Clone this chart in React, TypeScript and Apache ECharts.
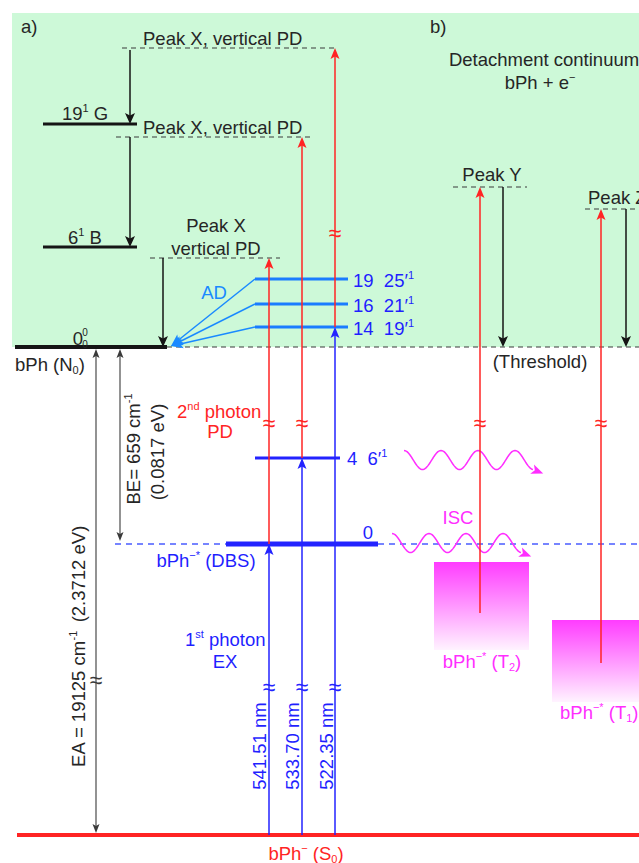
import React, { useEffect, useRef } from "react";
import * as echarts from "echarts";

const FONT = '"Liberation Sans", Arial, Helvetica, sans-serif';
const FS = 18.5;

// ---- diagram data (x in diagram columns, y in diagram energy units, top = 0) ----
// Detachment-continuum panel [x1, y1, x2, y2]
const continuumPanel = [[12, 13, 639, 347]];

// Solid energy levels [x1, x2, y]
const neutralLevels = [[43, 137, 124], [43, 137, 247]]; // 19^1 G, 6^1 B
const neutralGround = [[15, 167, 347]]; // bPh (N0)
const adLevels = [[255, 348, 279], [255, 348, 304], [255, 348, 327]]; // 19 25'1, 16 21'1, 14 19'1
const dbsVibLevels = [[255, 340, 458]]; // 4 6'1
const dbsLevel = [[226, 378, 544]]; // 0
const anionGround = [[17, 639, 835]]; // bPh- (S0)

// Dashed levels [x1, x2, y]
const blackDashed = [[122, 338, 48], [116, 310, 137], [150, 280, 258], [167, 639, 347], [453, 527, 187], [585, 639, 209]];
const blueDashed = [[115, 226, 544], [378, 639, 544]];

// Vertical arrows [x, yFrom, yTo]
const redArrows = [[269, 544, 258], [302, 458, 137], [335, 327, 48], [480, 613, 187], [601, 663, 209]];
const blueArrows = [[269, 835, 544], [302, 835, 458], [335, 835, 327]];
const blackArrows = [[130, 50, 124], [130, 137, 247], [163, 258, 347], [503, 187, 347], [626, 209, 347]];
const gaugeArrows = [[96, 349, 833], [120, 349, 541]]; // EA, BE (double headed)
// Autodetachment arrows [x1, y1, x2, y2]
const adArrows = [[255, 279, 171, 346], [255, 304, 171, 346], [255, 327, 171, 346]];

// Axis-break marks [x, y]
const redBreaks = [[269, 423], [302, 423], [335, 233], [480, 423], [601, 423]];
const blueBreaks = [[269, 687], [302, 687], [335, 687]];
const grayBreaks = [[96, 680]];

// Wavy (ISC) arrows [xStart, xEnd, yCentre]
const wavyArrows = [[404, 533, 460], [392, 521, 543]];
// Triplet bands [x1, y1, x2, y2]
const tripletBands = [[434, 562, 529, 650], [552, 620, 639, 702]];

// Labels [x, y, text, align]
const blackLabels: any[] = [
  [21, 26, "a)", "left"],
  [430, 26, "b)", "left"],
  [544, 59, "Detachment continuum", "center"],
  [540, 82, "bPh + e{sup|−}", "center"],
  [143, 38, "Peak X, vertical PD", "left"],
  [143, 127, "Peak X, vertical PD", "left"],
  [62, 113, "19{sup|1} G", "left"],
  [68, 237, "6{sup|1} B", "left"],
  [216, 225, "Peak X", "center"],
  [216, 248, "vertical PD", "center"],
  [15, 364, "bPh (N{sub|0})", "left"],
  [540, 361, "(Threshold)", "center"],
  [492, 174, "Peak Y", "center"],
  [588, 197, "Peak Z", "left"],
  [78, 338, "0", "center"],
];
const smallBlackLabels: any[] = [
  [85, 332, "0", "center"],
  [85, 344, "0", "center"],
];
const rotatedBlackLabels: any[] = [
  [133, 449, "BE= 659 cm{sup|-1}"],
  [157, 452, "(0.0817 eV)"],
  [78, 699, "EA = 19125 cm{sup|-1}"],
  [78, 574, "(2.3712 eV)"],
];
const blueLabels: any[] = [
  [353, 280, "19  25′{sup|1}", "left"],
  [353, 305, "16  21′{sup|1}", "left"],
  [353, 328, "14  19′{sup|1}", "left"],
  [347, 458, "4  6′{sup|1}", "left"],
  [368, 532, "0", "center"],
  [206, 560, "bPh{sup|−*} (DBS)", "center"],
  [185, 639, "1{sup|st} photon", "left"],
  [225, 661, "EX", "center"],
];
const rotatedBlueLabels: any[] = [
  [259, 746, "541.51 nm"],
  [292, 746, "533.70 nm"],
  [326, 746, "522.35 nm"],
];
const adLabels: any[] = [[214, 292, "AD", "center"]];
const redLabels: any[] = [
  [177, 411, "2{sup|nd} photon", "left"],
  [220, 431, "PD", "center"],
  [306, 853, "bPh{sup|−} (S{sub|0})", "center"],
];
const magentaLabels: any[] = [
  [458, 517, "ISC", "center"],
  [482, 661, "bPh{sup|−*} (T{sub|2})", "center"],
  [560, 712, "bPh{sup|−*} (T{sub|1})", "left"],
];

// ---- styles ----
const GREEN = "#cdf9d8";
const BLACK = "#151515";
const TEXT_BLACK = "#262626";
const GRAY = "#3a3a3a";
const RED = "#ff2424";
const BLUE = "#2323ff";
const TEXT_BLUE = "#1f1fff";
const AD_BLUE = "#1a8aff";
const DASH_BLUE = "#4a5cff";
const MAGENTA = "#ff2eff";

const RICH = {
  sup: { fontSize: 11, verticalAlign: "top", lineHeight: 12, fontFamily: FONT },
  sub: { fontSize: 11, verticalAlign: "bottom", lineHeight: 12, fontFamily: FONT },
};

function arrowGroup(a: number[], b: number[], color: string, width: number, len: number, half: number, both = false) {
  const dx = b[0] - a[0], dy = b[1] - a[1];
  const L = Math.hypot(dx, dy) || 1;
  const ux = dx / L, uy = dy / L;
  const nx = -uy, ny = ux;
  const head = (tip: number[], sx: number, sy: number) => {
    const bx = tip[0] - sx * len, by = tip[1] - sy * len;
    const mx = tip[0] - sx * len * 0.78, my = tip[1] - sy * len * 0.78;
    return {
      type: "polygon",
      shape: { points: [[tip[0], tip[1]], [bx + nx * half, by + ny * half], [mx, my], [bx - nx * half, by - ny * half]] },
      style: { fill: color },
    };
  };
  const start = both ? [a[0] + ux * len * 0.7, a[1] + uy * len * 0.7] : a;
  const end = [b[0] - ux * len * 0.7, b[1] - uy * len * 0.7];
  const children: any[] = [
    { type: "line", shape: { x1: start[0], y1: start[1], x2: end[0], y2: end[1] }, style: { stroke: color, lineWidth: width } },
    head(b, ux, uy),
  ];
  if (both) children.push(head(a, -ux, -uy));
  return { type: "group", children };
}

function buildOption() {
  let z = 1;
  const S = (name: string, arr: any[], render: any) => ({
    type: "custom",
    name,
    coordinateSystem: "cartesian2d",
    data: arr.map((d: any[]) => [d[0], d[1]]),
    renderItem: render,
    silent: true,
    clip: false,
    z: z++,
  });

  const rectRender = (arr: number[][], fill: any) => (params: any, api: any) => {
    const d = arr[params.dataIndex];
    const p1 = api.coord([d[0], d[1]]);
    const p2 = api.coord([d[2], d[3]]);
    const f = typeof fill === "function" ? fill() : fill;
    return { type: "rect", shape: { x: p1[0], y: p1[1], width: p2[0] - p1[0], height: p2[1] - p1[1] }, style: { fill: f } };
  };
  const levelRender = (arr: number[][], color: string, width: number, dash?: number[]) => (params: any, api: any) => {
    const d = arr[params.dataIndex];
    const a = api.coord([d[0], d[2]]);
    const b = api.coord([d[1], d[2]]);
    return {
      type: "line",
      shape: { x1: a[0], y1: a[1], x2: b[0], y2: b[1] },
      style: { stroke: color, lineWidth: width, lineDash: dash || null },
    };
  };
  const vArrowRender = (arr: number[][], color: string, width: number, len: number, half: number, both = false) =>
    (params: any, api: any) => {
      const d = arr[params.dataIndex];
      return arrowGroup(api.coord([d[0], d[1]]), api.coord([d[0], d[2]]), color, width, len, half, both);
    };
  const dArrowRender = (arr: number[][], color: string, width: number, len: number, half: number) =>
    (params: any, api: any) => {
      const d = arr[params.dataIndex];
      return arrowGroup(api.coord([d[0], d[1]]), api.coord([d[2], d[3]]), color, width, len, half);
    };
  const breakRender = (arr: number[][], color: string) => (params: any, api: any) => {
    const d = arr[params.dataIndex];
    const p = api.coord([d[0], d[1]]);
    return {
      type: "text", x: p[0], y: p[1],
      style: { text: "≈", fill: color, fontSize: 23, fontFamily: FONT, align: "center", verticalAlign: "middle" },
    };
  };
  const textRender = (arr: any[], color: string, rot = 0, size = FS) => (params: any, api: any) => {
    const d = arr[params.dataIndex];
    const p = api.coord([d[0], d[1]]);
    return {
      type: "text", x: p[0], y: p[1], rotation: rot,
      style: {
        text: d[2], fill: color, fontSize: size, fontFamily: FONT,
        align: d[3] || "center", verticalAlign: "middle", lineHeight: 22, rich: RICH,
      },
    };
  };
  const AMP = 9.5, LAMBDA = 37;
  const wavyRender = (params: any, api: any) => {
    const d = wavyArrows[params.dataIndex];
    const pts: number[][] = [];
    for (let x = d[0]; x <= d[1] + 0.01; x += 1) {
      const y = d[2] - AMP * Math.cos((2 * Math.PI * (x - d[0])) / LAMBDA);
      pts.push(api.coord([x, y]));
    }
    const e = pts[pts.length - 1];
    const p = pts[pts.length - 3];
    const dx = e[0] - p[0], dy = e[1] - p[1];
    const L = Math.hypot(dx, dy);
    const ux = dx / L, uy = dy / L;
    const tip = [e[0] + ux * 11, e[1] + uy * 11];
    const nx = -uy, ny = ux;
    const bx = tip[0] - ux * 12, by = tip[1] - uy * 12;
    const mx = tip[0] - ux * 9, my = tip[1] - uy * 9;
    return {
      type: "group",
      children: [
        { type: "polyline", shape: { points: pts }, style: { stroke: MAGENTA, lineWidth: 1.5, fill: null } },
        {
          type: "polygon",
          shape: { points: [tip, [bx + nx * 5, by + ny * 5], [mx, my], [bx - nx * 5, by - ny * 5]] },
          style: { fill: MAGENTA },
        },
      ],
    };
  };
  const bandFill = () =>
    new echarts.graphic.LinearGradient(0, 0, 0, 1, [
      { offset: 0, color: "#ff3cff" },
      { offset: 1, color: "#fff3ff" },
    ]);

  return {
    animation: false,
    backgroundColor: "#ffffff",
    grid: { left: 0, right: 0, top: 0, bottom: 0 },
    xAxis: { type: "value", min: 0, max: 639, show: false },
    yAxis: { type: "value", min: 0, max: 863, inverse: true, show: false },
    series: [
      S("panel", continuumPanel, rectRender(continuumPanel, GREEN)),
      S("triplets", tripletBands, rectRender(tripletBands, bandFill)),
      S("blackDashed", blackDashed, levelRender(blackDashed, GRAY, 1.2, [5, 4])),
      S("blueDashed", blueDashed, levelRender(blueDashed, DASH_BLUE, 1.5, [6, 5])),
      S("wavy", wavyArrows, wavyRender),
      S("neutralLevels", neutralLevels, levelRender(neutralLevels, BLACK, 3)),
      S("neutralGround", neutralGround, levelRender(neutralGround, BLACK, 4)),
      S("adLevels", adLevels, levelRender(adLevels, "#1a7cff", 3)),
      S("dbsVib", dbsVibLevels, levelRender(dbsVibLevels, BLUE, 3)),
      S("dbs", dbsLevel, levelRender(dbsLevel, BLUE, 5)),
      S("anionGround", anionGround, levelRender(anionGround, RED, 4)),
      S("adArrows", adArrows, dArrowRender(adArrows, AD_BLUE, 1.5, 12, 5)),
      S("blueArrows", blueArrows, vArrowRender(blueArrows, BLUE, 1.5, 11, 4.5)),
      S("redArrows", redArrows, vArrowRender(redArrows, RED, 1.5, 11, 4.5)),
      S("blackArrows", blackArrows, vArrowRender(blackArrows, BLACK, 1.5, 11, 5)),
      S("gaugeArrows", gaugeArrows, vArrowRender(gaugeArrows, GRAY, 1.1, 9, 3.5, true)),
      S("redBreaks", redBreaks, breakRender(redBreaks, RED)),
      S("blueBreaks", blueBreaks, breakRender(blueBreaks, BLUE)),
      S("grayBreaks", grayBreaks, breakRender(grayBreaks, GRAY)),
      S("blackLabels", blackLabels, textRender(blackLabels, TEXT_BLACK)),
      S("smallBlackLabels", smallBlackLabels, textRender(smallBlackLabels, TEXT_BLACK, 0, 10)),
      S("rotatedBlackLabels", rotatedBlackLabels, textRender(rotatedBlackLabels, TEXT_BLACK, Math.PI / 2)),
      S("blueLabels", blueLabels, textRender(blueLabels, TEXT_BLUE)),
      S("rotatedBlueLabels", rotatedBlueLabels, textRender(rotatedBlueLabels, TEXT_BLUE, Math.PI / 2)),
      S("adLabels", adLabels, textRender(adLabels, AD_BLUE)),
      S("redLabels", redLabels, textRender(redLabels, RED)),
      S("magentaLabels", magentaLabels, textRender(magentaLabels, MAGENTA)),
    ],
  };
}

export default function App() {
  const ref = useRef<HTMLDivElement>(null);
  useEffect(() => {
    const chart = echarts.init(ref.current!, undefined, { renderer: "svg" });
    chart.setOption(buildOption() as any);
    return () => chart.dispose();
  }, []);
  return (
    <div
      ref={ref}
      style={{ position: "absolute", left: 0, top: 0, width: 639, height: 863, background: "#ffffff" }}
    />
  );
}
